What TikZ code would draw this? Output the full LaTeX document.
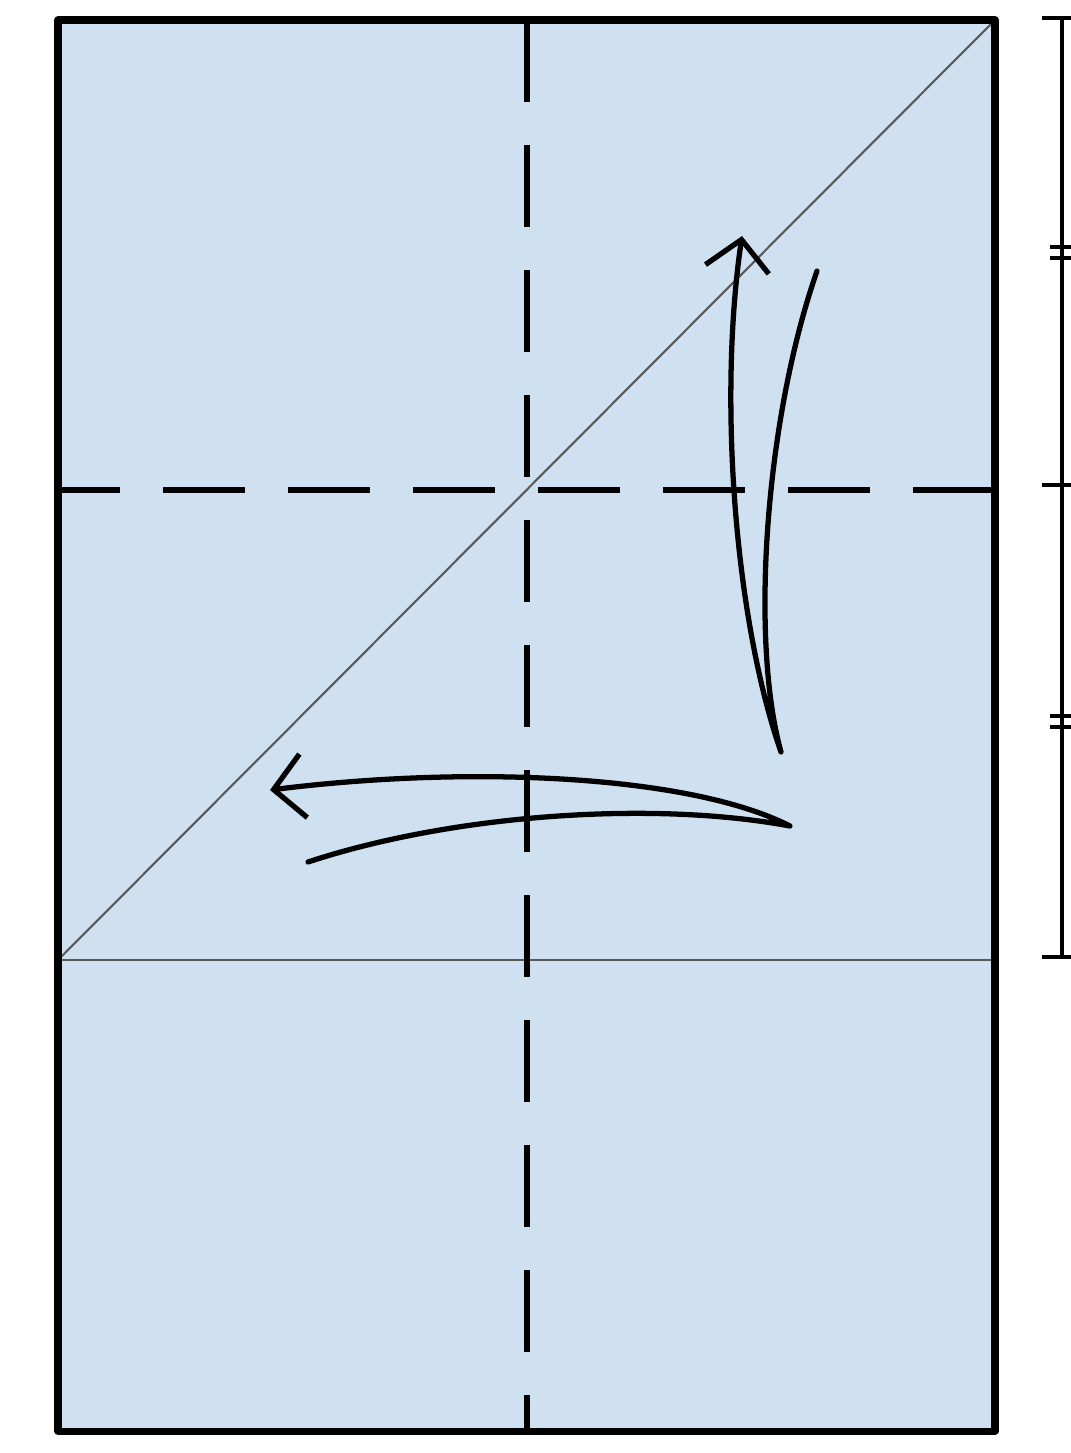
\documentclass[tikz,border=0pt]{standalone}
\usepackage{tikz}
\usetikzlibrary{arrows.meta}
\definecolor{paperblue}{RGB}{207,225,241}

\begin{document}
\begin{tikzpicture}[
    x=0.1mm, y=-0.1mm,
    sheet/.style={draw=black, line width=2pt, line join=round},
    fold/.style={line width=1.5pt, dash pattern=on 8.2mm off 4.3mm},
    crease/.style={line width=0.6pt, draw=black!65},
    arr/.style={line width=1.5pt, line cap=round, line join=round, -{Straight Barb[length=3mm, width=6.4mm, line width=1.5pt]}},
    rule/.style={line width=1.2pt}
]
\path[use as bounding box, fill=white] (0,0) rectangle (1071,1453);

% corners of the sheet
\coordinate (tl) at (58,20);
\coordinate (tr) at (995,20);
\coordinate (br) at (995,1431);
\coordinate (ml) at (58,960);
\coordinate (mr) at (995,960);
\coordinate (top) at (527,20);
\coordinate (bot) at (527,1431);
\coordinate (hl) at (58,490);
\coordinate (hr) at (995,490);

\fill[paperblue] (tl) rectangle (br);

% creases
\draw[crease] (ml) -- (mr);
\draw[crease] (ml) -- (tr);

% valley folds
\draw[fold] (top) -- (bot);
\draw[fold, dash phase=2mm] (hl) -- (hr);

\draw[sheet] (tl) rectangle (br);

% fold arrows
\coordinate (up0) at (817,271);
\coordinate (up1) at (781,752);
\coordinate (up2) at (742,236);
\draw[arr] (up0) .. controls (765,420) and (750,640) .. (up1)
    .. controls (735,620) and (718,400) .. (up2);

\coordinate (lf0) at (308,862);
\coordinate (lf1) at (790,826);
\coordinate (lf2) at (270,790);
\draw[arr] (lf0) .. controls (450,815) and (650,800) .. (lf1)
    .. controls (690,775) and (470,765) .. (lf2);

% measure on the right
\coordinate (rt) at (1062,18);
\coordinate (rb) at (1062,957);
\draw[rule] (rt) -- (rb);
\foreach \y in {18,485,957}
    \draw[rule] (1042,\y) -- (1071,\y);
\foreach \y in {247,258,716,727}
    \draw[rule] (1050,\y) -- (1071,\y);
\end{tikzpicture}
\end{document}
